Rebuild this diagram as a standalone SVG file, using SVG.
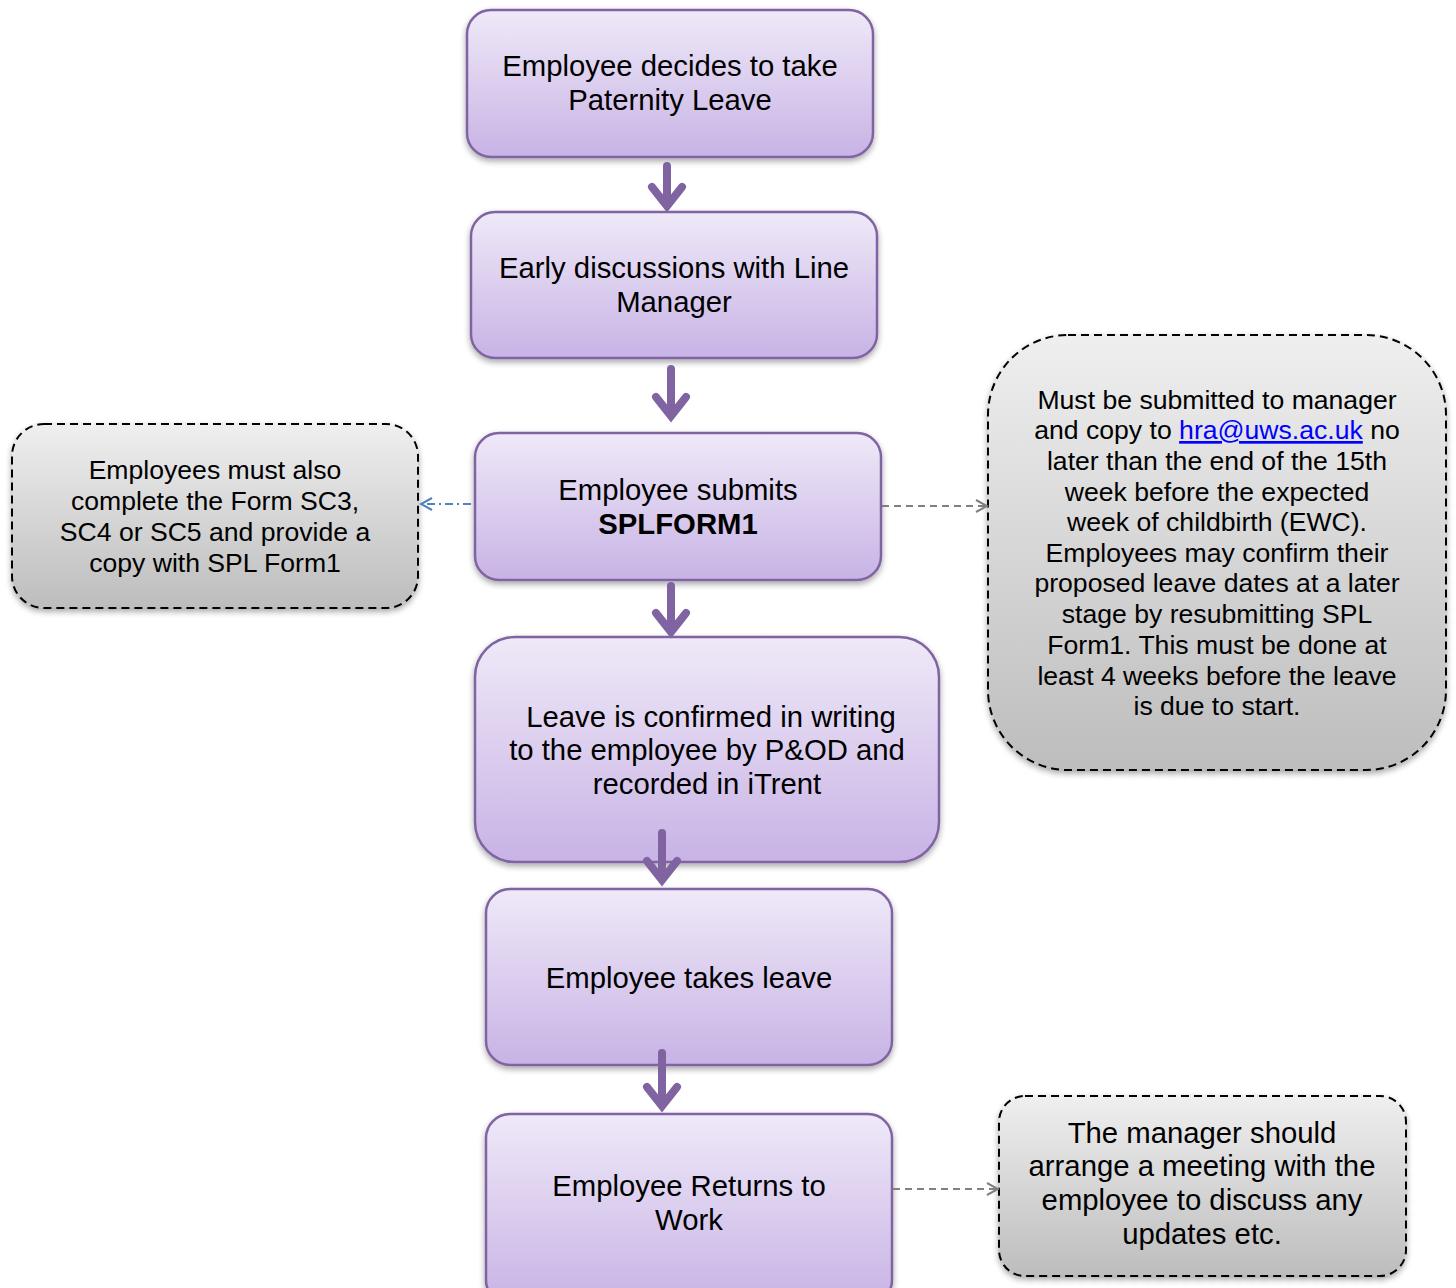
<svg xmlns="http://www.w3.org/2000/svg" width="1456" height="1288" viewBox="0 0 1456 1288">
<defs>
<linearGradient id="gp" x1="0" y1="0" x2="0" y2="1">
<stop offset="0" stop-color="#efe9f8"/>
<stop offset="1" stop-color="#c8b3e5"/>
</linearGradient>
<linearGradient id="gg" x1="0" y1="0" x2="0" y2="1">
<stop offset="0" stop-color="#efefef"/>
<stop offset="1" stop-color="#bdbdbd"/>
</linearGradient>
<filter id="sh" x="-10%" y="-10%" width="120%" height="130%">
<feGaussianBlur in="SourceAlpha" stdDeviation="3"/>
<feOffset dx="0" dy="3" result="b"/>
<feComponentTransfer><feFuncA type="linear" slope="0.35"/></feComponentTransfer>
<feMerge><feMergeNode/><feMergeNode in="SourceGraphic"/></feMerge>
</filter>
<marker id="ag" markerWidth="14" markerHeight="14" refX="12" refY="7" orient="auto" markerUnits="userSpaceOnUse">
<path d="M1,1 L12,7 L1,13" fill="none" stroke="#808080" stroke-width="2"/>
</marker>
<marker id="ab" markerWidth="14" markerHeight="14" refX="12" refY="7" orient="auto" markerUnits="userSpaceOnUse">
<path d="M1,1 L12,7 L1,13" fill="none" stroke="#4f81bd" stroke-width="2"/>
</marker>
</defs>
<style>
.p{fill:url(#gp);stroke:#8064a2;stroke-width:2.5;filter:url(#sh)}
.g{fill:url(#gg);stroke:#000;stroke-width:2;stroke-dasharray:8 5;filter:url(#sh)}
.t{font-family:"Liberation Sans",Arial,sans-serif;font-size:29.3px;fill:#000;text-anchor:middle}
.n{font-family:"Liberation Sans",Arial,sans-serif;font-size:26.6px;fill:#000;text-anchor:middle}
.big{font-size:29.3px}
.a{fill:none;stroke:#8064a2;stroke-width:8;stroke-linecap:round;stroke-linejoin:miter}
</style>
<g id="node1">
<rect class="p" x="467" y="10" width="406" height="147" rx="24"/>
<text class="t" x="670" y="76">Employee decides to take</text>
<text class="t" x="670" y="110">Paternity Leave</text>
</g>
<g id="node2">
<rect class="p" x="471" y="212" width="406" height="146" rx="24"/>
<text class="t" x="674" y="278">Early discussions with Line</text>
<text class="t" x="674" y="312">Manager</text>
</g>
<g id="node3">
<rect class="p" x="475" y="433" width="406" height="147" rx="24"/>
<text class="t" x="678" y="500">Employee submits</text>
<text class="t" x="678" y="534" font-weight="bold">SPLFORM1</text>
</g>
<g id="node4">
<rect class="p" x="475" y="637" width="464" height="225" rx="40"/>
<text class="t" x="711" y="727">Leave is confirmed in writing</text>
<text class="t" x="707" y="760">to the employee by P&amp;OD and</text>
<text class="t" x="707" y="794">recorded in iTrent</text>
</g>
<g id="node5">
<rect class="p" x="486" y="889" width="406" height="176" rx="24"/>
<text class="t" x="689" y="988">Employee takes leave</text>
</g>
<g id="node6">
<rect class="p" x="486" y="1114" width="406" height="190" rx="24"/>
<text class="t" x="689" y="1196">Employee Returns to</text>
<text class="t" x="689" y="1230">Work</text>
</g>
<g id="note-left">
<rect class="g" x="12" y="424" width="406" height="184" rx="32"/>
<text class="n" x="215" y="479">Employees must also</text>
<text class="n" x="215" y="510">complete the Form SC3,</text>
<text class="n" x="215" y="541">SC4 or SC5 and provide a</text>
<text class="n" x="215" y="572">copy with SPL Form1</text>
</g>
<g id="note-right">
<rect class="g" x="988" y="335" width="458" height="435" rx="80"/>
<text class="n" x="1217" y="409">Must be submitted to manager</text>
<text class="n" x="1217" y="439">and copy to <tspan fill="#0000ff" text-decoration="underline">hra@uws.ac.uk</tspan> no</text>
<text class="n" x="1217" y="470">later than the end of the 15th</text>
<text class="n" x="1217" y="501">week before the expected</text>
<text class="n" x="1217" y="531">week of childbirth (EWC).</text>
<text class="n" x="1217" y="562">Employees may confirm their</text>
<text class="n" x="1217" y="592">proposed leave dates at a later</text>
<text class="n" x="1217" y="623">stage by resubmitting SPL</text>
<text class="n" x="1217" y="654">Form1. This must be done at</text>
<text class="n" x="1217" y="685">least 4 weeks before the leave</text>
<text class="n" x="1217" y="715">is due to start.</text>
</g>
<g id="note-bottom">
<rect class="g" x="999" y="1096" width="407" height="180" rx="26"/>
<text class="n big" x="1202" y="1143">The manager should</text>
<text class="n big" x="1202" y="1176">arrange a meeting with the</text>
<text class="n big" x="1202" y="1210">employee to discuss any</text>
<text class="n big" x="1202" y="1244">updates etc.</text>
</g>
<g id="connectors">
<path class="a" d="M667,166 V204 M652,187 L667,206 L682,187"/>
<path class="a" d="M671,369 V414 M656,397 L671,416 L686,397"/>
<path class="a" d="M671,586 V630 M656,613 L671,632 L686,613"/>
<path class="a" d="M662,833 V878 M647,861 L662,880 L677,861"/>
<path class="a" d="M662,1053 V1104 M647,1087 L662,1106 L677,1087"/>
<line x1="471" y1="504" x2="421" y2="504" stroke="#4f81bd" stroke-width="2" stroke-dasharray="8 4 2 4" marker-end="url(#ab)"/>
<line x1="882" y1="506" x2="987" y2="506" stroke="#808080" stroke-width="2" stroke-dasharray="7 5" marker-end="url(#ag)"/>
<line x1="893" y1="1189" x2="998" y2="1189" stroke="#808080" stroke-width="2" stroke-dasharray="7 5" marker-end="url(#ag)"/>
</g>
</svg>
